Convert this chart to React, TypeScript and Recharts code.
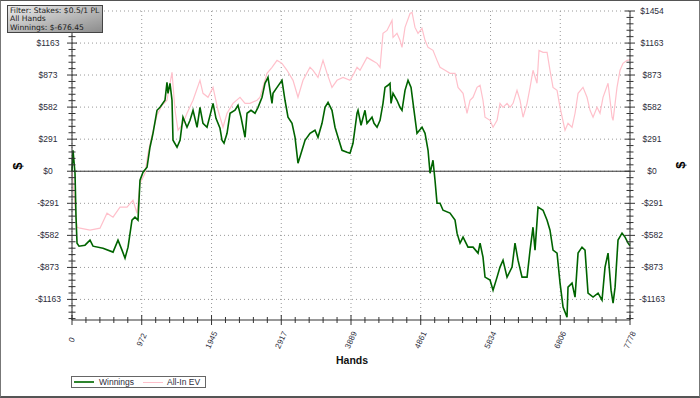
import React from "react";
import { LineChart, Line, XAxis, YAxis, CartesianGrid, ReferenceLine } from "recharts";

// axis ticks as printed on the chart
const handsTicks = [0, 972, 1945, 2917, 3889, 4861, 5834, 6806, 7778];
const dollarTicks = [-1163, -873, -582, -291, 0, 291, 582, 873, 1163, 1454];
const seriesNames = ["Winnings", "All-In EV"];
const filterLines = ["Filter: Stakes: $0.5/1 PL", "All Hands", "Winnings: $-676.45"];

// Winnings (green)
const winningsHands = [
  0, 14, 42, 56, 70, 98, 181, 251, 293, 432, 572, 641, 697, 739, 781, 836, 878, 920, 948, 990,
  1046, 1087, 1129, 1185, 1227, 1296, 1324, 1338, 1366, 1394, 1408, 1464, 1506, 1547, 1603, 1645, 1687, 1743, 1784, 1826,
  1882, 1924, 1966, 2007, 2063, 2091, 2119, 2161, 2203, 2272, 2314, 2356, 2412, 2440, 2495, 2551, 2593, 2649, 2690, 2732,
  2788, 2802, 2858, 2927, 2969, 3011, 3067, 3109, 3150, 3206, 3248, 3318, 3387, 3429, 3485, 3527, 3569, 3624, 3666, 3708,
  3764, 3834, 3875, 3917, 3973, 3987, 4029, 4084, 4112, 4182, 4210, 4252, 4294, 4335, 4363, 4405, 4433, 4447, 4475, 4530,
  4572, 4600, 4642, 4684, 4726, 4767, 4809, 4879, 4921, 4963, 4991, 5032, 5060, 5088, 5130, 5172, 5269, 5339, 5367, 5409,
  5451, 5520, 5590, 5660, 5688, 5729, 5757, 5827, 5869, 5925, 5966, 6008, 6064, 6134, 6175, 6217, 6273, 6343, 6385, 6426,
  6454, 6496, 6566, 6622, 6663, 6705, 6761, 6803, 6845, 6900, 6914, 6970, 7012, 7054, 7109, 7151, 7193, 7263, 7333, 7388,
  7430, 7472, 7514, 7542, 7570, 7611, 7667, 7709, 7751, 7778,
];
const winningsValues = [
  0, 190, -18, -417, -653, -680, -671, -625, -680, -698, -734, -625, -716, -789, -689, -444, -417, -444, -82, -9,
  36, 218, 344, 553, 580, 644, 807, 707, 798, 644, 281, 218, 281, 490, 399, 462, 553, 399, 580, 435,
  399, 507, 616, 480, 390, 281, 254, 344, 526, 553, 598, 490, 308, 526, 553, 526, 580, 671, 798, 852,
  616, 707, 761, 825, 644, 490, 435, 308, 73, 190, 281, 344, 372, 308, 435, 580, 625, 553, 399, 308,
  190, 172, 163, 254, 526, 553, 417, 553, 435, 490, 435, 399, 462, 616, 761, 780, 798, 616, 707, 644,
  580, 553, 734, 825, 761, 553, 344, 399, 344, 190, -18, 100, -82, -290, -290, -354, -380, -444, -562, -653,
  -598, -689, -689, -743, -653, -780, -961, -988, -1079, -961, -870, -807, -961, -870, -653, -807, -961, -961, -716, -508,
  -716, -326, -354, -444, -535, -716, -743, -1015, -1233, -1324, -1052, -1015, -1142, -743, -689, -716, -1106, -1142, -1106, -1169,
  -870, -743, -1079, -1197, -1052, -625, -562, -598, -653, -676,
];

// All-In EV (pink)
const evHands = [
  0, 28, 70, 112, 251, 390, 488, 572, 669, 767, 850, 906, 948, 1018, 1059, 1115, 1185, 1255, 1324, 1394,
  1436, 1478, 1547, 1603, 1687, 1784, 1826, 1896, 1966, 2035, 2105, 2161, 2244, 2342, 2412, 2481, 2579, 2621, 2718, 2788,
  2858, 2927, 2997, 3081, 3150, 3220, 3318, 3360, 3429, 3499, 3555, 3624, 3694, 3778, 3875, 3931, 3973, 4015, 4112, 4182,
  4252, 4294, 4335, 4391, 4461, 4475, 4530, 4572, 4600, 4642, 4712, 4740, 4781, 4823, 4879, 4921, 4963, 5032, 5088, 5130,
  5200, 5269, 5339, 5381, 5451, 5506, 5548, 5590, 5646, 5688, 5729, 5757, 5827, 5869, 5925, 5966, 6008, 6064, 6106, 6148,
  6203, 6245, 6287, 6343, 6385, 6426, 6482, 6510, 6566, 6622, 6663, 6705, 6761, 6803, 6872, 6914, 6970, 7012, 7054, 7123,
  7179, 7221, 7263, 7319, 7360, 7402, 7472, 7528, 7542, 7597, 7639, 7681, 7737, 7778,
];
const evValues = [
  0, -218, -508, -517, -535, -517, -381, -417, -326, -326, -263, -381, -109, -18, 163, 326, 508, 598, 644, 897,
  553, 372, 435, 526, 644, 825, 707, 671, 761, 553, 399, 526, 616, 671, 616, 616, 644, 671, 888, 943,
  1006, 979, 916, 825, 671, 825, 943, 916, 852, 1006, 888, 761, 825, 852, 825, 888, 943, 916, 1033, 1006,
  979, 943, 1251, 1278, 1369, 1215, 1251, 1188, 1124, 1305, 1432, 1441, 1305, 1251, 1296, 1188, 1124, 1097, 1006, 943,
  916, 888, 888, 761, 707, 526, 644, 671, 761, 780, 644, 490, 462, 399, 462, 616, 580, 616, 580, 616,
  734, 644, 490, 616, 761, 916, 798, 1097, 1079, 1079, 916, 761, 734, 580, 372, 435, 399, 526, 707, 761,
  671, 553, 490, 580, 526, 671, 798, 490, 462, 761, 916, 979, 1006, 1010,
];

const Y_MIN = -1350;
const Y_MAX = 1454;
const X_MAX = 7778;

const subdivide = (majors: number[], parts: number) => {
  const out: number[] = [];
  for (let i = 0; i < majors.length - 1; i++) {
    for (let j = 1; j < parts; j++) out.push(majors[i] + ((majors[i + 1] - majors[i]) * j) / parts);
  }
  return out;
};

const minorX = subdivide(handsTicks, 5);
const minorY = subdivide(dollarTicks, 5);
const yStep = (dollarTicks[1] - dollarTicks[0]) / 5;
for (let v = dollarTicks[0] - yStep; v >= Y_MIN; v -= yStep) minorY.push(v);

const allX = [...handsTicks, ...minorX].sort((a, b) => a - b);
const allY = [...dollarTicks, ...minorY].sort((a, b) => a - b);

const isMajor = (v: number, list: number[]) => list.some((m) => Math.abs(m - v) < 0.5);
const money = (v: number) => (v < 0 ? `-$${-v}` : `$${v}`);

// merge both series into one table keyed by hand number
const rowMap = new Map<number, any>();
const row = (h: number) => {
  if (!rowMap.has(h)) rowMap.set(h, { hands: h });
  return rowMap.get(h);
};
winningsHands.forEach((h, i) => (row(h).winnings = winningsValues[i]));
evHands.forEach((h, i) => (row(h).ev = evValues[i]));
const data = [...rowMap.values()].sort((a, b) => a.hands - b.hands);

const labelFont = "'Liberation Sans', Arial, sans-serif";
const labelColor = "#2c2c3a";

// left side: top label sits under the filter box, so it is not printed
const LeftTick = ({ x, y, payload }: any) => {
  const major = isMajor(payload.value, dollarTicks);
  const s = major ? 5 : 3.5;
  const showLabel = major && payload.value !== Y_MAX;
  return (
    <g>
      <line x1={x - s} x2={x + s} y1={y} y2={y} stroke="#333" />
      {showLabel && (
        <text x={x - 24} y={y} textAnchor="middle" dominantBaseline="central" fontSize={8.5} fontFamily={labelFont} fill={labelColor}>
          {money(payload.value)}
        </text>
      )}
    </g>
  );
};

const RightTick = ({ x, y, payload }: any) => {
  const major = isMajor(payload.value, dollarTicks);
  const s = major ? 5 : 3.5;
  return (
    <g>
      <line x1={x - s} x2={x + s} y1={y} y2={y} stroke="#333" />
      {major && (
        <text x={x + 22} y={y} textAnchor="middle" dominantBaseline="central" fontSize={8.5} fontFamily={labelFont} fill={labelColor}>
          {money(payload.value)}
        </text>
      )}
    </g>
  );
};

const BottomTick = ({ x, y, payload }: any) => {
  const major = isMajor(payload.value, handsTicks);
  const s = major ? 5 : 3;
  return (
    <g>
      <line x1={x} x2={x} y1={y - s} y2={y + s} stroke="#333" />
      {major && (
        <text
          x={x}
          y={y + 20}
          transform={`rotate(-65, ${x}, ${y + 20})`}
          textAnchor="middle"
          dominantBaseline="central"
          fontSize={8}
          fontFamily={labelFont}
          fill={labelColor}
        >
          {payload.value}
        </text>
      )}
    </g>
  );
};

const TopTick = ({ x, y, payload }: any) => {
  const major = isMajor(payload.value, handsTicks);
  return <line x1={x} x2={x} y1={y - 2} y2={y + (major ? 5 : 3)} stroke="#555" />;
};

export default function App() {
  return (
    <div style={{ position: "absolute", left: 0, top: 0, width: 700, height: 398, background: "#fff" }}>
      <LineChart width={700} height={398} data={data} margin={{ top: 11, right: 0, bottom: 0, left: 0 }}>
        <CartesianGrid
          xAxisId="bottom"
          yAxisId="left"
          horizontal
          vertical
          horizontalValues={dollarTicks}
          verticalValues={handsTicks}
          stroke="#999"
          strokeDasharray="1 3"
        />
        <XAxis
          xAxisId="top"
          orientation="top"
          dataKey="hands"
          type="number"
          domain={[0, X_MAX]}
          ticks={allX}
          interval={0}
          height={0}
          tickSize={0}
          tickMargin={0}
          tickLine={false}
          axisLine={{ stroke: "#aaa" }}
          tick={<TopTick />}
        />
        <XAxis
          xAxisId="bottom"
          dataKey="hands"
          type="number"
          domain={[0, X_MAX]}
          ticks={allX}
          interval={0}
          height={78}
          tickSize={0}
          tickMargin={0}
          tickLine={false}
          axisLine={{ stroke: "#333" }}
          tick={<BottomTick />}
        />
        <YAxis
          yAxisId="left"
          type="number"
          domain={[Y_MIN, Y_MAX]}
          allowDataOverflow
          ticks={allY}
          interval={0}
          width={72}
          tickSize={0}
          tickMargin={0}
          tickLine={false}
          axisLine={{ stroke: "#333" }}
          tick={<LeftTick />}
        />
        <YAxis
          yAxisId="right"
          orientation="right"
          type="number"
          domain={[Y_MIN, Y_MAX]}
          allowDataOverflow
          ticks={allY}
          interval={0}
          width={70}
          tickSize={0}
          tickMargin={0}
          tickLine={false}
          axisLine={{ stroke: "#333" }}
          tick={<RightTick />}
        />
        <ReferenceLine xAxisId="bottom" yAxisId="left" y={0} stroke="#333" />
        <Line
          xAxisId="bottom"
          yAxisId="left"
          dataKey="ev"
          name={seriesNames[1]}
          stroke="#ffc0cb"
          strokeWidth={1.2}
          dot={false}
          connectNulls
          type="linear"
          isAnimationActive={false}
        />
        <Line
          xAxisId="bottom"
          yAxisId="left"
          dataKey="winnings"
          name={seriesNames[0]}
          stroke="#006400"
          strokeWidth={1.6}
          dot={false}
          connectNulls
          type="linear"
          isAnimationActive={false}
        />
      </LineChart>

      {/* axis titles */}
      <div style={{ position: "absolute", left: 12, top: 158, width: 12, height: 16, transform: "rotate(-90deg)", font: "bold 13px 'Liberation Sans', Arial", textAlign: "center", lineHeight: "16px" }}>$</div>
      <div style={{ position: "absolute", left: 675, top: 157, width: 12, height: 16, transform: "rotate(-90deg)", font: "bold 13px 'Liberation Sans', Arial", textAlign: "center", lineHeight: "16px" }}>$</div>
      <div style={{ position: "absolute", left: 312, top: 354, width: 80, textAlign: "center", font: "bold 10.5px 'Liberation Sans', Arial", color: "#111" }}>Hands</div>

      {/* filter box */}
      <div
        style={{
          position: "absolute",
          left: 7,
          top: 5,
          width: 96,
          height: 28,
          border: "1px solid #444",
          background: "linear-gradient(to bottom right, #ececec, #8c8c8c)",
          font: "7.6px 'DejaVu Sans', Verdana, sans-serif",
          color: "#1a1a1a",
          lineHeight: "8.6px",
          padding: "0.5px 0 0 2px",
          boxSizing: "border-box",
          whiteSpace: "nowrap",
        }}
      >
        {filterLines.map((t) => (
          <div key={t}>{t}</div>
        ))}
      </div>

      {/* legend */}
      <div
        style={{
          position: "absolute",
          left: 71,
          top: 376,
          width: 135,
          height: 12,
          border: "1px solid #666",
          boxSizing: "border-box",
          background: "#fff",
          font: "8.5px 'Liberation Sans', Arial, sans-serif",
          color: labelColor,
        }}
      >
        <div style={{ position: "absolute", left: 2, top: 4, width: 20, height: 2, background: "#2f852f" }} />
        <div style={{ position: "absolute", left: 27, top: 0, lineHeight: "10px" }}>{seriesNames[0]}</div>
        <div style={{ position: "absolute", left: 71, top: 4.5, width: 20, height: 1, background: "#ffc0cb" }} />
        <div style={{ position: "absolute", left: 95, top: 0, lineHeight: "10px" }}>{seriesNames[1]}</div>
      </div>

      {/* outer frame */}
      <div
        style={{
          position: "absolute",
          left: 0,
          top: 0,
          width: 700,
          height: 398,
          boxSizing: "border-box",
          borderTop: "1px solid #555",
          borderLeft: "1px solid #777",
          borderRight: "1px solid #777",
          borderBottom: "2px solid #555",
          pointerEvents: "none",
        }}
      />
    </div>
  );
}
